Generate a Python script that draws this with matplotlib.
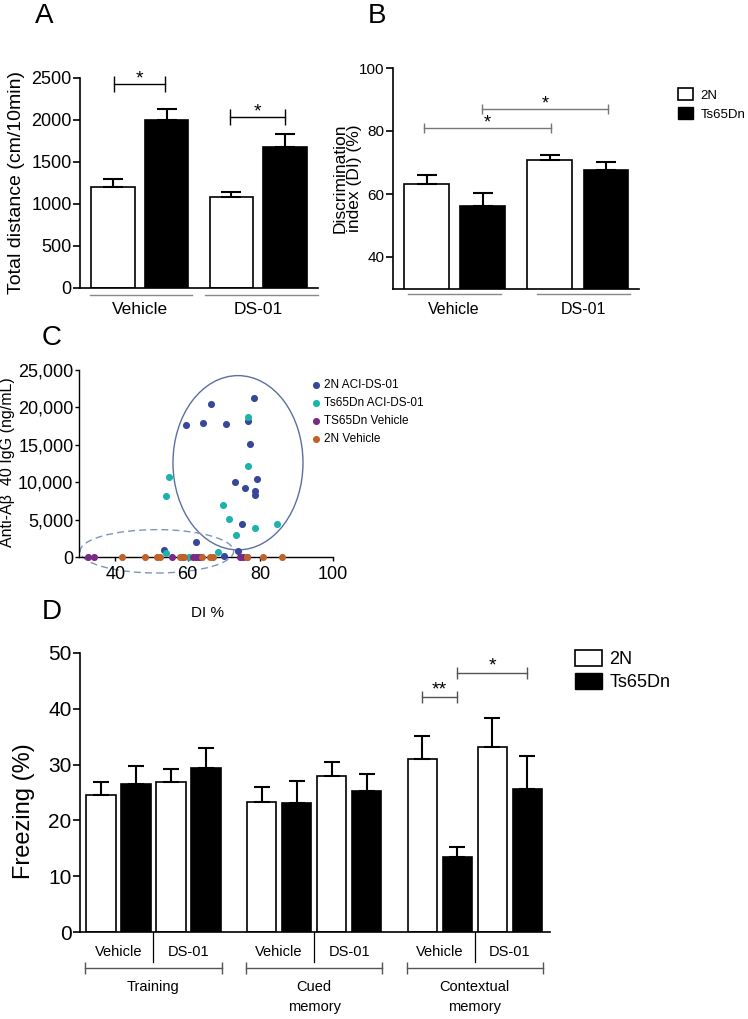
import numpy as np
import matplotlib
matplotlib.use("Agg")
import matplotlib.pyplot as plt
import matplotlib.transforms as mtransforms
from matplotlib.patches import Ellipse, Patch

W, H = 748, 1019
REG = ['Liberation Sans', 'DejaVu Sans']
plt.rcParams['font.family'] = REG

# --- panel A: open field distance
groups_ab = ['Vehicle', 'DS-01']
dist_2n = [1200, 1080]
dist_2n_err = [95, 60]
dist_ts = [2005, 1680]
dist_ts_err = [125, 155]

# --- panel B: discrimination index
di_2n = [63.3, 70.7]
di_2n_err = [2.8, 1.8]
di_ts = [56.2, 67.6]
di_ts_err = [4.2, 2.7]

# --- panel C: antibody titre vs DI
c_labels = ['2N ACI-DS-01', 'Ts65Dn ACI-DS-01', 'TS65Dn Vehicle', '2N Vehicle']
c_colors = ['#36479c', '#1db3ad', '#7a2a85', '#c0632b']
n_aci_x = [59.5, 64.2, 66.4, 70.5, 76.6, 78.3, 77.3, 73.1, 75.9, 79.1, 78.6, 78.7, 74.9, 53.4, 62.3, 74.0, 70.0]
n_aci_y = [17700, 17900, 20400, 17800, 18200, 21200, 15100, 10000, 9200, 10400, 8800, 8300, 4400, 1000, 2000, 850, 100]
ts_aci_x = [54.9, 53.9, 76.6, 76.6, 69.7, 71.5, 73.4, 78.7, 84.8, 54.1, 68.5, 60.4]
ts_aci_y = [10700, 8100, 18700, 12100, 7000, 5100, 3000, 3900, 4400, 600, 700, 0]
ts_veh_x = [32.4, 34.1, 55.7, 58.7, 61.6, 62.3, 63.0, 63.6, 74.5, 75.4, 76.3]
ts_veh_y = [0] * len(ts_veh_x)
n_veh_x = [42.0, 48.1, 51.5, 52.4, 58.0, 59.0, 63.9, 66.2, 67.1, 76.4, 80.8, 86.0]
n_veh_y = [0] * len(n_veh_x)

# --- panel D: fear conditioning
phases = ['Training', 'Cued\nmemory', 'Contextual\nmemory']
frz_2n_veh = [24.6, 23.3, 31.0]
frz_2n_veh_err = [2.2, 2.7, 4.2]
frz_ts_veh = [26.6, 23.2, 13.5]
frz_ts_veh_err = [3.1, 3.8, 1.8]
frz_2n_ds = [26.8, 28.0, 33.2]
frz_2n_ds_err = [2.4, 2.5, 5.2]
frz_ts_ds = [29.4, 25.3, 25.6]
frz_ts_ds_err = [3.6, 3.1, 6.0]

fig = plt.figure(figsize=(W / 100, H / 100), dpi=100)


def px_axes(x0, y_top, x1, y_bot):
    return fig.add_axes([x0 / W, 1 - y_bot / H, (x1 - x0) / W, (y_bot - y_top) / H])


def style(ax, fs):
    for s in ['top', 'right']:
        ax.spines[s].set_visible(False)
    for s in ['left', 'bottom']:
        ax.spines[s].set_linewidth(1.2)
    ax.tick_params(axis='y', length=5, width=1.2, labelsize=fs, pad=1)
    ax.tick_params(axis='x', length=0, labelsize=fs)


def bars(ax, x, vals, errs, fill, width, cap):
    ax.bar(x, vals, width=width, color=fill, edgecolor='black', linewidth=1.2,
           yerr=[np.zeros(len(vals)), errs], capsize=cap,
           error_kw=dict(elinewidth=1.5, capthick=1.5, ecolor='black'))


def bracket(ax, x0, x1, y, txt, color, ms, fs, dy):
    ax.plot([x0, x1], [y, y], color=color, lw=1, marker='|', ms=ms, mew=1, clip_on=False)
    ax.text((x0 + x1) / 2, y + dy, txt, ha='center', va='center', fontsize=fs)


def underline(ax, x0, x1, yf, color='#888888', lw=1.0, caps=False):
    tr = mtransforms.blended_transform_factory(ax.transData, ax.transAxes)
    ax.plot([x0, x1], [yf, yf], color=color, lw=lw, transform=tr, clip_on=False,
            marker='|' if caps else None, ms=8, mew=lw)


def box_legend(x, y, fs, hl, hh, pad, sp):
    fig.legend(handles=[Patch(facecolor='white', edgecolor='black', lw=1.2),
                        Patch(facecolor='black', edgecolor='black')],
               labels=['2N', 'Ts65Dn'], loc='upper left', bbox_to_anchor=(x / W, 1 - y / H),
               fontsize=fs, frameon=False, borderpad=0, borderaxespad=0,
               handlelength=hl, handleheight=hh, handletextpad=pad, labelspacing=sp)


# ---------------- A
axA = px_axes(80, 78, 318, 288)
style(axA, 13)
xa = np.array([0, 2.19])
bars(axA, xa, dist_2n, dist_2n_err, 'white', 0.8, 7)
bars(axA, xa + 1, dist_ts, dist_ts_err, 'black', 0.8, 7)
axA.set_xlim(-0.61, 3.80)
axA.set_ylim(0, 2500)
axA.set_yticks([0, 500, 1000, 1500, 2000, 2500])
axA.set_ylabel('Total distance (cm/10min)', fontsize=14)
axA.yaxis.set_label_coords(-0.231, 0.5)
axA.set_xticks([0.5, 2.69], groups_ab)
axA.tick_params(axis='x', pad=10, labelsize=12.5)
underline(axA, -0.43, 1.46, -0.033)
underline(axA, 1.70, 3.80, -0.033)
bracket(axA, 0.02, 0.96, 2430, '*', 'black', 12, 14, 60)
bracket(axA, 2.17, 3.19, 2040, '*', 'black', 12, 14, 60)

# ---------------- B
axB = px_axes(393, 68, 639, 288.5)
style(axB, 11)
xb = np.array([0, 2.2])
bars(axB, xb, di_2n, di_2n_err, 'white', 0.8, 7)
bars(axB, xb + 1, di_ts, di_ts_err, 'black', 0.8, 7)
axB.set_xlim(-0.6, 3.79)
axB.set_ylim(30, 100)
axB.set_yticks([40, 60, 80, 100])
axB.set_ylabel('Discrimination\nindex (DI) (%)', fontsize=12.5, linespacing=0.95)
axB.yaxis.set_label_coords(-0.126, 0.5)
axB.set_xticks([0.49, 2.8], groups_ab)
axB.tick_params(axis='x', pad=10, labelsize=11.5)
underline(axB, -0.33, 1.33, -0.025)
underline(axB, 1.97, 3.63, -0.025)
bracket(axB, -0.05, 2.22, 81, '*', '#777777', 7, 13, 1.6)
bracket(axB, 0.99, 3.24, 87, '*', '#777777', 7, 13, 1.6)

box_legend(678, 88, 9.5, 1.15, 1.05, 0.55, 0.4)

# ---------------- C
axC = px_axes(79, 370, 332.5, 557)
style(axC, 13)
for sp in ['left', 'bottom']:
    axC.spines[sp].set_linewidth(1.0)
axC.tick_params(axis='both', length=3, width=1.0, labelsize=13)
c_sets = [(n_aci_x, n_aci_y), (ts_aci_x, ts_aci_y), (ts_veh_x, ts_veh_y), (n_veh_x, n_veh_y)]
for (xs, ys), col, lab in zip(c_sets, c_colors, c_labels):
    axC.scatter(xs, ys, s=26, color=col, label=lab, clip_on=False, zorder=3, linewidths=0)
axC.add_patch(Ellipse((73.9, 12600), 35.9, 23300, fill=False, ec='#5b6fa0', lw=1.0, clip_on=False))
axC.add_patch(Ellipse((51.5, 760), 42.4, 5800, fill=False, ec='#8193bd', lw=1.0, ls=(0, (5, 3)),
                      clip_on=False))
axC.set_xlim(30, 100)
axC.set_ylim(0, 25000)
axC.set_xticks([40, 60, 80, 100])
axC.set_yticks([0, 5000, 10000, 15000, 20000, 25000])
axC.set_yticklabels(['0', '5,000', '10,000', '15,000', '20,000', '25,000'])
axC.set_ylabel('Anti-A\u03b2  40 IgG (ng/mL)', fontsize=11.5)
axC.yaxis.set_label_coords(-0.252, 0.51)
axC.set_xlabel('DI %', fontsize=11)
axC.xaxis.set_label_coords(0.506, -0.26)
axC.legend(loc='upper left', bbox_to_anchor=(312 / W, 1 - 379 / H), bbox_transform=fig.transFigure,
           frameon=False, prop={'size': 8.5}, handlelength=0.6, handletextpad=0.4,
           labelspacing=0.5, borderpad=0, borderaxespad=0, scatterpoints=1)

# ---------------- D
axD = px_axes(80, 653, 550, 932)
style(axD, 15)
step = 4.59
base = np.arange(len(phases)) * step
wd = 0.83
bars(axD, base, frz_2n_veh, frz_2n_veh_err, 'white', wd, 6)
bars(axD, base + 1, frz_ts_veh, frz_ts_veh_err, 'black', wd, 6)
bars(axD, base + 2, frz_2n_ds, frz_2n_ds_err, 'white', wd, 6)
bars(axD, base + 3, frz_ts_ds, frz_ts_ds_err, 'black', wd, 6)
axD.set_xlim(-0.6, 12.83)
axD.set_ylim(0, 50)
axD.set_yticks([0, 10, 20, 30, 40, 50])
axD.set_ylabel('Freezing (%)', fontsize=17)
axD.yaxis.set_label_coords(-0.096, 0.434)
ticks = np.concatenate([base + 0.5, base + 2.5])
axD.set_xticks(ticks, ['Vehicle'] * 3 + ['DS-01'] * 3)
axD.tick_params(axis='x', labelsize=10.5, pad=9)
trD = mtransforms.blended_transform_factory(axD.transData, axD.transAxes)
for b, ph in zip(base, phases):
    axD.plot([b + 1.5, b + 1.5], [0, -0.108], color='black', lw=0.9, transform=trD, clip_on=False)
    underline(axD, b - 0.45, b + 3.45, -0.129, color='#555555', lw=1.0, caps=True)
    axD.text(b + 1.5, -0.172, ph, transform=trD, ha='center', va='top', fontsize=10.5,
             linespacing=1.55)
bracket(axD, base[2], base[2] + 1, 42.2, '**', '#555555', 8, 14, 1.2)
bracket(axD, base[2] + 1, base[2] + 3, 46.5, '*', '#555555', 8, 14, 1.2)

box_legend(575, 650, 13, 1.5, 1.0, 0.4, 0.25)

# panel letters
for letter, x, y in [('A', 35, 16), ('B', 368, 16), ('C', 42, 338), ('D', 42, 612)]:
    fig.text(x / W, 1 - y / H, letter, fontsize=20, va='center', ha='left')

fig.savefig('out.png', dpi=100)
